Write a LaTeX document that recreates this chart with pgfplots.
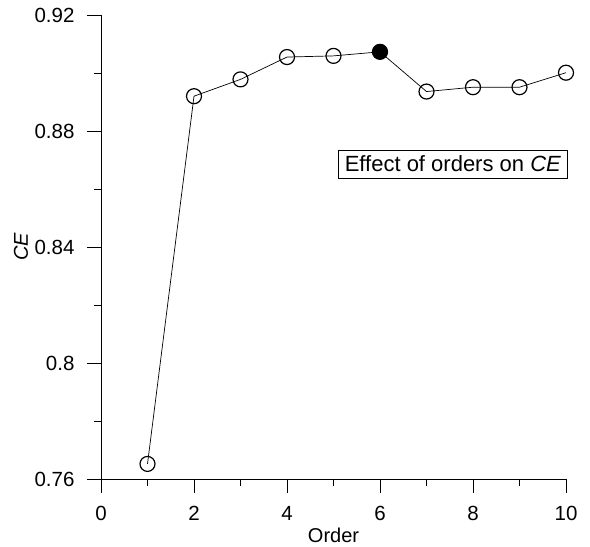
\documentclass[border=0pt]{standalone}
\usepackage{fontspec}
\setmainfont{Liberation Sans}
\usepackage{pgfplots}
\pgfplotsset{compat=1.18}

\begin{document}
\begin{tikzpicture}
% fixed page: axis box is 465 x 464 bp, page 590 x 547 bp
\path[use as bounding box] (-101bp,-68bp) rectangle (489bp,479bp);
\begin{axis}[
  at={(0,0)}, anchor=south west,
  scale only axis,
  width=465bp, height=464bp,
  xmin=0, xmax=10,
  ymin=0.76, ymax=0.92,
  axis lines*=left,
  axis line style={line width=0.9bp},
  xtick={0,2,4,6,8,10},
  ytick={0.76,0.8,0.84,0.88,0.92},
  yticklabels={0.76,0.8,0.84,0.88,0.92},
  minor x tick num=1,
  minor y tick num=1,
  tick align=outside,
  major tick length=14bp,
  minor tick length=7bp,
  tick style={line width=0.8bp, black},
  /pgf/number format/assume math mode=true,
  tick label style={font=\fontsize{20.5bp}{24bp}\selectfont},
  xticklabel style={yshift=-10bp},
  yticklabel style={xshift=-9bp},
  label style={font=\fontsize{20bp}{24bp}\selectfont},
  xlabel={Order},
  ylabel={\itshape CE},
  xlabel style={at={(axis description cs:0.5,-0.136)}, anchor=base},
  ylabel style={at={(axis description cs:-0.172,0.5)}, anchor=center},
  clip=false,
]
\addplot[black, line width=0.7bp, mark=o,
  mark options={line width=1.2bp, mark size=7.5bp, solid}] coordinates {
  (1, 0.7652)
  (2, 0.8920)
  (3, 0.8978)
  (4, 0.9055)
  (5, 0.9059)
  (6, 0.9073)
  (7, 0.8936)
  (8, 0.8951)
  (9, 0.8951)
  (10, 0.9001)
};
% highlighted point
\addplot[black, only marks, mark=*,
  mark options={mark size=7.5bp, fill=black}] coordinates {
  (6, 0.9073)
};
\node[draw=black, line width=0.7bp, anchor=east, inner xsep=6bp, inner ysep=6bp,
  font=\fontsize{22bp}{26bp}\selectfont]
  at (rel axis cs:1.003,0.679) {Effect of orders on \textit{CE}};
\end{axis}
\end{tikzpicture}
\end{document}
